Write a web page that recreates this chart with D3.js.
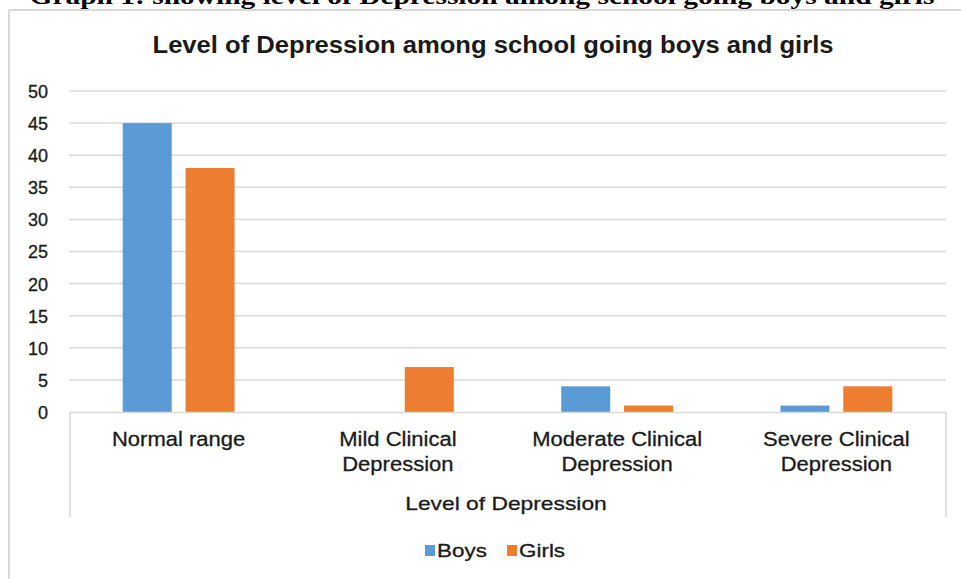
<!DOCTYPE html>
<html>
<head>
<meta charset="utf-8">
<script src="https://cdn.jsdelivr.net/npm/d3@7"></script>
<style>
  html, body { margin: 0; padding: 0; background: #fff; }
  svg { display: block; }
</style>
</head>
<body>
<svg id="chart" width="961" height="579"></svg>
<script>
const categories = [["Normal range"], ["Mild Clinical", "Depression"], ["Moderate Clinical", "Depression"], ["Severe Clinical", "Depression"]];
const seriesNames = ["Boys", "Girls"];
const boys = [45, 0, 4, 1];
const girls = [38, 7, 1, 4];
const yTicks = [0, 5, 10, 15, 20, 25, 30, 35, 40, 45, 50];
const colors = ["#5B9BD5", "#ED7D31"];

const svg = d3.select("#chart");
const font = "'Liberation Sans', Arial, sans-serif";
const txt = "#1a1a1a";

function widen(k) {
  return sel => sel.each(function () {
    const w = this.getComputedTextLength();
    d3.select(this).attr("textLength", w * k).attr("lengthAdjust", "spacingAndGlyphs");
  });
}

// outer frame
svg.append("line").attr("x1", 9).attr("x2", 9).attr("y1", 10).attr("y2", 579).attr("stroke", "#d9d9d9").attr("stroke-width", 2);
svg.append("line").attr("x1", 9).attr("x2", 961).attr("y1", 10).attr("y2", 10).attr("stroke", "#d9d9d9").attr("stroke-width", 2);

// cut header
svg.append("text").attr("x", 482).attr("y", 4).attr("text-anchor", "middle")
  .attr("font-family", "'Liberation Serif', 'Times New Roman', serif").attr("font-weight", "bold")
  .attr("font-size", 24).attr("textLength", 905).attr("lengthAdjust", "spacingAndGlyphs")
  .text("Graph 1: showing level of Depression among school going boys and girls");

// title
svg.append("text").attr("x", 493).attr("y", 53).attr("text-anchor", "middle")
  .attr("font-family", font).attr("font-weight", "bold").attr("font-size", 24)
  .attr("fill", txt).attr("textLength", 681).attr("lengthAdjust", "spacingAndGlyphs")
  .text("Level of Depression among school going boys and girls");

const x0 = d3.scaleBand().domain(d3.range(categories.length)).range([69, 946]).paddingInner(0.49).paddingOuter(0.245);
const x1 = d3.scaleBand().domain(seriesNames).range([0, x0.bandwidth()]).paddingInner(0.22);
const y = d3.scaleLinear().domain([0, 50]).range([412, 91]);

// gridlines
svg.append("g").selectAll("line").data(yTicks.filter(d => d > 0)).join("line")
  .attr("x1", 69).attr("x2", 946).attr("y1", d => y(d)).attr("y2", d => y(d))
  .attr("stroke", "#d9d9d9").attr("stroke-width", 1.5);

// y axis labels
const yAxis = d3.axisLeft(y).tickValues(yTicks).tickSize(0).tickPadding(0);
const gy = svg.append("g").attr("transform", "translate(48,0)").call(yAxis);
gy.select(".domain").remove();
gy.selectAll("text").attr("font-family", font).attr("font-size", 18).attr("fill", txt)
  .attr("dy", "0.36em").attr("stroke", txt).attr("stroke-width", 0.3);

// bars
const data = categories.map((c, i) => ({ i, vals: [boys[i], girls[i]] }));
const groups = svg.append("g").selectAll("g").data(data).join("g")
  .attr("transform", d => `translate(${x0(d.i)},0)`);
groups.selectAll("rect").data(d => d.vals.map((v, k) => ({ v, k }))).join("rect")
  .attr("x", d => x1(seriesNames[d.k]))
  .attr("width", x1.bandwidth())
  .attr("y", d => y(d.v))
  .attr("height", d => y(0) - y(d.v))
  .attr("fill", d => colors[d.k]);

// x axis line and end ticks
svg.append("line").attr("x1", 69).attr("x2", 946).attr("y1", 412.5).attr("y2", 412.5).attr("stroke", "#d9d9d9").attr("stroke-width", 1.5);
svg.append("line").attr("x1", 70).attr("x2", 70).attr("y1", 412).attr("y2", 517).attr("stroke", "#d9d9d9").attr("stroke-width", 1.5);
svg.append("line").attr("x1", 946).attr("x2", 946).attr("y1", 412).attr("y2", 517).attr("stroke", "#d9d9d9").attr("stroke-width", 1.5);

// category labels
const lines = [];
categories.forEach((c, i) => c.forEach((t, j) => lines.push({ i, j, t })));
svg.append("g").selectAll("text").data(lines).join("text")
  .attr("x", d => x0(d.i) + x0.bandwidth() / 2)
  .attr("y", d => 446 + d.j * 25)
  .attr("text-anchor", "middle")
  .attr("font-family", font).attr("font-size", 20).attr("fill", txt)
  .attr("stroke", txt).attr("stroke-width", 0.3)
  .text(d => d.t)
  .call(widen(1.1));

// axis title
svg.append("text").attr("x", 506).attr("y", 510).attr("text-anchor", "middle")
  .attr("font-family", font).attr("font-size", 19).attr("fill", txt)
  .attr("stroke", txt).attr("stroke-width", 0.3)
  .text("Level of Depression")
  .call(widen(1.2));

// legend
const legendX = [425, 507];
const lg = svg.append("g").selectAll("g").data(seriesNames).join("g")
  .attr("transform", (d, i) => `translate(${legendX[i]},0)`);
lg.append("rect").attr("x", 0).attr("y", 545).attr("width", 10).attr("height", 11).attr("fill", (d, i) => colors[i]);
lg.append("text").attr("x", 12).attr("y", 557).attr("font-family", font).attr("font-size", 19)
  .attr("fill", txt).attr("stroke", txt).attr("stroke-width", 0.3).text(d => d)
  .call(widen(1.18));
</script>
</body>
</html>
